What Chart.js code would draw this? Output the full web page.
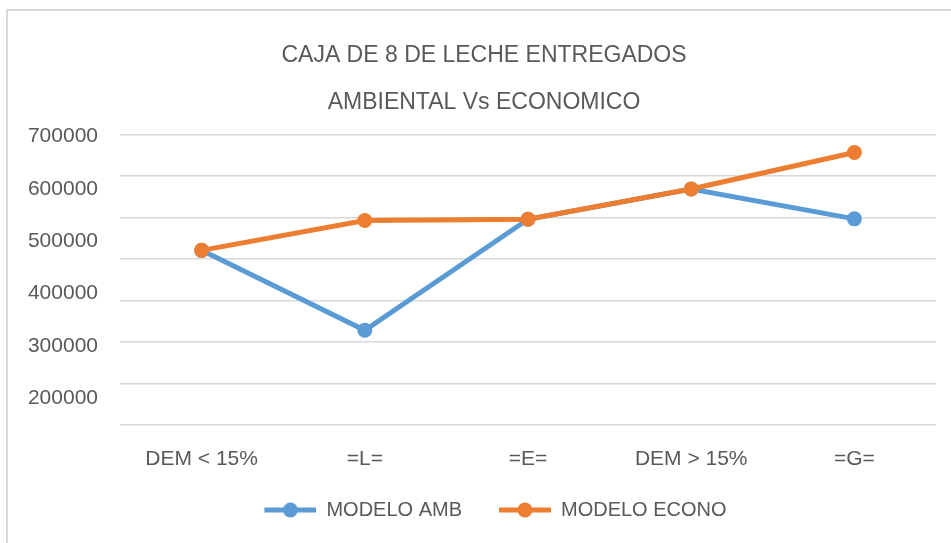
<!DOCTYPE html>
<html>
<head>
<meta charset="utf-8">
<title>Caja de 8 de leche entregados</title>
<script src="https://cdn.jsdelivr.net/npm/chart.js@4/dist/chart.umd.min.js"></script>
<style>
  body { margin: 0; background: #fff; }
  #wrap { position: relative; width: 951px; height: 543px; overflow: hidden; }
  /* grey frame of the original chart object, cut off on the right and bottom */
  #frame { position: absolute; left: 6px; top: 9px; width: 980px; height: 560px;
           border-left: 2px solid #d9d9d9; border-top: 2px solid #d9d9d9; }
  #myChart { position: absolute; left: 0; top: 0; }
</style>
</head>
<body>
<div id="wrap">
  <div id="frame"></div>
  <!-- canvas a bit wider than the window: the original chart box runs past the right edge -->
  <canvas id="myChart" width="968" height="543"></canvas>
</div>
<script>
// data
const categories = ['DEM < 15%', '=L=', '=E=', 'DEM > 15%', '=G='];
const modeloAmb = [421000, 228000, 496000, 569000, 497000];
const modeloEcono = [421000, 493000, 496000, 569000, 657000];
const yTickLabels = [700000, 600000, 500000, 400000, 300000, 200000];
const titleLines = ['CAJA DE 8 DE LECHE ENTREGADOS', 'AMBIENTAL Vs ECONOMICO'];

const blue = '#5B9BD5';
const orange = '#ED7D31';

Chart.defaults.font.family = "'Liberation Sans', Arial, sans-serif";
Chart.defaults.color = '#595959';

// legend marker: thick line with a dot in the middle (lead leaves a gap before it)
const markerLead = 23;
function legendMarker(color) {
    const c = document.createElement('canvas');
    c.width = 52 + markerLead;
    c.height = 16;
    const g = c.getContext('2d');
    g.strokeStyle = color;
    g.lineWidth = 5;
    g.beginPath();
    g.moveTo(markerLead, 8);
    g.lineTo(c.width, 8);
    g.stroke();
    g.fillStyle = color;
    g.beginPath();
    g.arc(markerLead + 26, 8, 7.5, 0, Math.PI * 2);
    g.fill();
    return c;
}

const ctx = document.getElementById('myChart').getContext('2d');
const myChart = new Chart(ctx, {
    type: 'line',
    data: {
        labels: categories,
        datasets: [{
            label: 'MODELO AMB',
            data: modeloAmb,
            borderColor: blue,
            backgroundColor: blue,
            pointBackgroundColor: blue,
            borderWidth: 5,
            pointRadius: 7.5,
            pointBorderWidth: 0,
            order: 1
        }, {
            label: 'MODELO ECONO',
            data: modeloEcono,
            borderColor: orange,
            backgroundColor: orange,
            pointBackgroundColor: orange,
            borderWidth: 5,
            pointRadius: 7.5,
            pointBorderWidth: 0,
            order: 0
        }]
    },
    options: {
        responsive: false,
        animation: false,
        devicePixelRatio: 1,
        layout: { padding: { left: 0, right: 0, top: 0, bottom: 13 } },
        plugins: {
            tooltip: { enabled: false },
            title: {
                display: true,
                text: titleLines,
                color: '#595959',
                font: { size: 23, weight: 'normal', lineHeight: 2.07 },
                padding: { top: 31.5, bottom: 8 }
            },
            legend: {
                position: 'bottom',
                labels: {
                    usePointStyle: true,
                    pointStyleWidth: 52 + markerLead,
                    boxHeight: 16,
                    padding: 14,
                    color: '#595959',
                    font: { size: 20 },
                    sort: (a, b) => a.datasetIndex - b.datasetIndex,
                    generateLabels: chart => {
                        const items = Chart.defaults.plugins.legend.labels.generateLabels(chart);
                        items.forEach(it => {
                            it.pointStyle = legendMarker(chart.data.datasets[it.datasetIndex].borderColor);
                        });
                        return items;
                    }
                }
            }
        },
        scales: {
            x: {
                offset: true,
                grid: { display: false },
                border: { display: false },
                ticks: { padding: 14, font: { size: 21 }, color: '#595959' }
            },
            // value axis: only draws the gridlines
            y: {
                position: 'left',
                min: 0,
                max: 700000,
                ticks: { stepSize: 100000, display: false },
                grid: { color: '#d9d9d9', lineWidth: 1.5, drawTicks: false },
                border: { display: false }
            },
            // label axis: the tick texts sit on their own spacing in the original
            yt: {
                position: 'left',
                min: 150000,
                max: 703000,
                grid: { display: false, drawTicks: false },
                border: { display: false },
                afterBuildTicks: axis => {
                    axis.ticks = yTickLabels.map(v => ({ value: v }));
                },
                afterFit: axis => {
                    axis.width = 120;
                },
                ticks: {
                    padding: 22,
                    font: { size: 21 },
                    color: '#595959',
                    callback: v => String(v)
                }
            },
            // empty spacer on the right, the plot stops at x=936
            spacer: {
                position: 'right',
                grid: { display: false, drawTicks: false },
                border: { display: false },
                ticks: { display: false },
                afterFit: axis => {
                    axis.width = 32;
                }
            }
        }
    }
});
</script>
</body>
</html>
